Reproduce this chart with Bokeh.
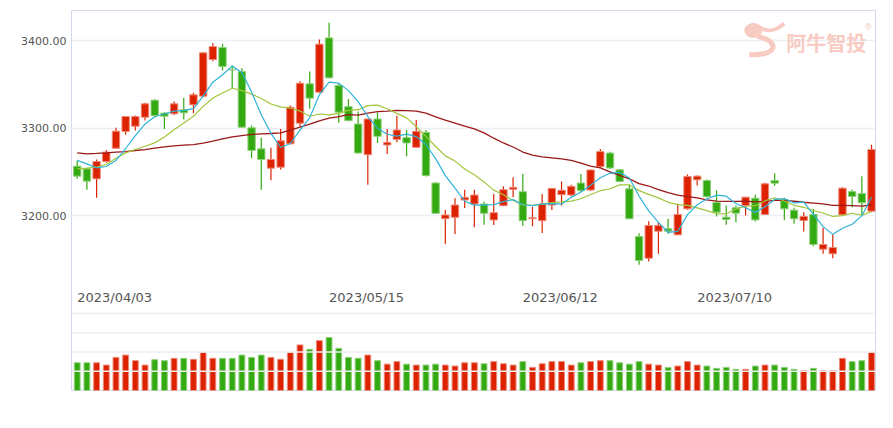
from bokeh.plotting import figure
from bokeh.models import (ColumnDataSource, Range1d, FixedTicker, NumeralTickFormatter,
                          Span, Label)
from bokeh.core.properties import value
from bokeh.embed import file_html
from bokeh.resources import INLINE

# ---------------- data ----------------
tick_idx = [0, 26, 46, 64]
tick_labels = ["2023/04/03", "2023/05/15", "2023/06/12", "2023/07/10"]

opens = [3256.4, 3253.3, 3241.9, 3261.7, 3276.9, 3296.0, 3302.1, 3312.4, 3331.8, 3317.0,
         3316.2, 3320.8, 3326.5, 3336.4, 3378.3, 3392.0, 3367.0, 3364.6, 3300.2, 3276.2,
         3254.1, 3255.2, 3281.9, 3305.5, 3350.5, 3341.0, 3403.0, 3348.6, 3324.4, 3304.6,
         3269.5, 3310.3, 3280.6, 3287.0, 3289.0, 3277.9, 3295.0, 3237.1, 3196.4, 3197.9,
         3217.7, 3213.1, 3213.1, 3194.9, 3211.2, 3229.9, 3227.2, 3196.4, 3194.1, 3212.0,
         3223.8, 3223.4, 3237.1, 3229.1, 3255.8, 3271.4, 3252.2, 3230.5, 3176.0, 3151.2,
         3182.1, 3184.8, 3177.9, 3207.6, 3240.8, 3240.0, 3214.9, 3198.1, 3208.8, 3211.4,
         3219.8, 3201.1, 3240.0, 3217.9, 3206.1, 3194.3, 3201.1, 3161.5, 3156.2, 3200.8,
         3227.4, 3225.1, 3205.0]
highs = [3262.9, 3254.0, 3264.0, 3275.0, 3300.2, 3313.5, 3314.3, 3328.8, 3333.0, 3318.1,
         3330.3, 3334.5, 3340.2, 3386.7, 3397.0, 3396.2, 3371.4, 3368.4, 3302.9, 3288.8,
         3277.3, 3299.0, 3325.7, 3353.5, 3364.6, 3401.1, 3420.2, 3350.5, 3333.1, 3319.0,
         3310.5, 3317.9, 3298.9, 3314.1, 3297.7, 3309.1, 3297.7, 3238.0, 3206.3, 3219.6,
         3229.5, 3229.5, 3215.8, 3224.6, 3233.3, 3243.6, 3247.4, 3210.1, 3224.6, 3231.5,
         3239.0, 3235.2, 3247.4, 3252.5, 3276.0, 3273.0, 3253.0, 3235.4, 3179.8, 3193.5,
         3192.4, 3196.2, 3213.3, 3246.9, 3245.7, 3241.1, 3228.6, 3211.4, 3211.4, 3221.0,
         3223.6, 3237.3, 3248.4, 3220.2, 3208.8, 3203.8, 3207.6, 3185.9, 3178.3, 3232.4,
         3229.7, 3245.0, 3280.8]
lows = [3241.9, 3229.3, 3220.2, 3260.2, 3276.0, 3292.2, 3297.1, 3308.6, 3312.4, 3299.0,
        3315.0, 3309.7, 3317.0, 3335.2, 3376.4, 3365.7, 3345.5, 3300.0, 3265.5, 3229.3,
        3240.4, 3252.6, 3281.5, 3301.7, 3321.9, 3340.5, 3357.0, 3305.9, 3307.6, 3271.0,
        3235.2, 3282.9, 3270.3, 3283.6, 3267.6, 3277.1, 3245.0, 3202.0, 3167.4, 3178.9,
        3208.6, 3186.5, 3189.5, 3189.1, 3211.0, 3220.8, 3188.4, 3187.6, 3180.0, 3206.3,
        3211.2, 3221.9, 3226.5, 3228.4, 3254.3, 3253.1, 3238.0, 3196.0, 3143.6, 3147.4,
        3156.2, 3179.0, 3177.5, 3206.5, 3234.3, 3220.2, 3198.9, 3189.3, 3192.4, 3200.0,
        3193.1, 3201.0, 3233.9, 3195.0, 3190.5, 3181.7, 3165.0, 3156.2, 3151.2, 3200.0,
        3209.5, 3200.0, 3204.0]
closes = [3245.0, 3239.2, 3261.7, 3272.4, 3296.4, 3313.1, 3313.1, 3327.6, 3314.3, 3313.5,
          3327.6, 3317.3, 3337.9, 3385.9, 3393.1, 3370.3, 3366.5, 3301.0, 3274.3, 3264.0,
          3264.0, 3285.3, 3323.8, 3351.2, 3334.1, 3395.8, 3357.3, 3318.1, 3308.4, 3271.4,
          3310.3, 3290.5, 3283.6, 3297.7, 3282.9, 3296.2, 3245.5, 3202.5, 3200.6, 3212.0,
          3220.8, 3223.4, 3202.5, 3203.2, 3229.5, 3232.2, 3194.1, 3197.5, 3213.1, 3231.0,
          3228.8, 3233.3, 3228.4, 3252.0, 3273.0, 3254.3, 3238.9, 3196.2, 3148.6, 3188.6,
          3188.6, 3182.1, 3201.1, 3244.6, 3245.0, 3221.7, 3203.8, 3195.4, 3202.7, 3221.0,
          3195.0, 3236.2, 3237.0, 3207.6, 3196.2, 3198.9, 3166.9, 3166.9, 3163.4, 3231.2,
          3221.7, 3214.5, 3275.4]
volumes = [144, 144, 144, 132, 172, 184, 155, 132, 160, 155,
           167, 167, 162, 197, 167, 167, 167, 184, 172, 184,
           172, 162, 197, 237, 214, 259, 275, 219, 172, 167,
           184, 155, 137, 150, 137, 132, 132, 137, 132, 127,
           144, 144, 139, 150, 139, 132, 150, 120, 139, 150,
           150, 132, 144, 150, 155, 155, 144, 137, 150, 137,
           132, 120, 127, 150, 132, 127, 115, 120, 110, 110,
           127, 132, 132, 120, 110, 104, 115, 104, 104, 167,
           150, 155, 197]

# moving-average values at the start of the window (they depend on earlier days)
ma5_head = [3263.0, 3259.0, 3254.5, 3256.0]
ma10_head = [3253.3, 3254.1, 3255.2, 3258.3, 3265.5, 3271.6, 3275.4, 3279.2, 3283.0]
ma30_head = [3271.6, 3270.5, 3270.9, 3271.6, 3272.4, 3273.1, 3274.3, 3275.4, 3277.0, 3278.5,
             3279.6, 3280.4, 3281.1, 3282.7, 3285.0, 3287.6, 3289.9, 3291.4, 3292.6, 3293.3,
             3293.7, 3294.5, 3297.5, 3301.0, 3304.4, 3308.2, 3311.2, 3313.1, 3315.2]

# ---------------- styling ----------------
RED = "#dd2200"
GREEN = "#33aa11"
RED_EDGE = "#ee8877"
GREEN_EDGE = "#8fd07a"
MA5_C = "#2fb3d9"
MA10_C = "#a2c63c"
MA30_C = "#9a1818"


def rolling(vals, n, head):
    out = list(head)
    for i in range(len(head), len(vals)):
        w = vals[i - n + 1:i + 1]
        out.append(sum(w) / len(w))
    return out


n = len(closes)
idx = list(range(n))
up = [c >= o for o, c in zip(opens, closes)]
colors = [RED if u else GREEN for u in up]
edges = [RED_EDGE if u else GREEN_EDGE for u in up]
tops = [max(o, c) for o, c in zip(opens, closes)]
bots = [min(o, c) for o, c in zip(opens, closes)]

src = ColumnDataSource(dict(x=idx, open=opens, high=highs, low=lows, close=closes,
                            top=tops, bottom=bots, color=colors, edge=edges, vol=volumes))

p = figure(width=893, height=428, output_backend="svg", toolbar_location=None,
           x_range=Range1d(-0.59, n - 0.59), y_range=Range1d(3000, 3434.29),
           min_border_left=71, min_border_right=18, min_border_top=10, min_border_bottom=38)
p.extra_y_ranges = {"vol": Range1d(0, 1974)}

p.background_fill_color = "white"
p.border_fill_color = "white"
p.outline_line_color = "#d0d8ea"
p.outline_line_width = 1

p.xaxis.visible = False
p.xgrid.visible = False
p.ygrid.ticker = FixedTicker(ticks=[3200, 3300, 3400])
p.ygrid.grid_line_color = "#eceef2"
p.ygrid.grid_line_width = 1.5

ya = p.yaxis[0]
ya.ticker = FixedTicker(ticks=[3200, 3300, 3400])
ya.formatter = NumeralTickFormatter(format="0.00")
ya.axis_line_color = None
ya.major_tick_line_color = None
ya.minor_tick_line_color = None
ya.major_tick_out = 0
ya.major_label_standoff = 5
ya.major_label_text_font = "DejaVu Sans"
ya.major_label_text_font_size = "11px"
ya.major_label_text_color = "#555555"

# volume grid lines
for gv in [100, 200, 300, 400]:
    p.add_layout(Span(location=gv, dimension="width", y_range_name="vol",
                      line_color="#eceef2", line_width=1.5))

# volume bars
p.vbar(x="x", top="vol", bottom=0, width=0.6, source=src, y_range_name="vol",
       fill_color="color", line_color="edge", line_width=1)

# candles
p.segment(x0="x", y0="low", x1="x", y1="high", source=src, line_color="color", line_width=1.2)
p.vbar(x="x", top="top", bottom="bottom", width=0.76, source=src,
       fill_color="color", line_color="edge", line_width=1)

# moving averages
ma5 = rolling(closes, 5, ma5_head)
ma10 = rolling(closes, 10, ma10_head)
ma30 = rolling(closes, 30, ma30_head)
p.line(idx, ma30, line_color=MA30_C, line_width=1.3)
p.line(idx, ma10, line_color=MA10_C, line_width=1.2)
p.line(idx, ma5, line_color=MA5_C, line_width=1.2)

# date labels inside the chart, between the price and volume panels
p.text(x=tick_idx, y=[3106.3] * len(tick_idx), text=tick_labels,
       text_font=value("DejaVu Sans"), text_font_size="13px", text_color="#555555",
       text_align="left", text_baseline="middle")

# watermark (logo + brand name)
def px2x(px):
    return (px - 76.7) / 9.69


def py2y(py):
    return 3200 + (215 - py) / 0.875


WM = "#f7cbc2"
p.ellipse(x=[px2x(753)], y=[py2y(30)], width=18 / 9.69, height=15 / 0.875,
          fill_color=WM, line_color=None)
p.bezier(x0=[px2x(758)], y0=[py2y(26)], x1=[px2x(784)], y1=[py2y(23)],
         cx0=[px2x(768)], cy0=[py2y(33)], cx1=[px2x(776)], cy1=[py2y(30)],
         line_color=WM, line_width=4)
p.bezier(x0=[px2x(757)], y0=[py2y(36)], x1=[px2x(749)], y1=[py2y(54)],
         cx0=[px2x(780)], cy0=[py2y(40)], cx1=[px2x(778)], cy1=[py2y(56)],
         line_color=WM, line_width=5)
p.add_layout(Label(x=px2x(826), y=py2y(42), text="阿牛智投", text_align="center",
                   text_baseline="middle", text_font="Noto Sans CJK SC",
                   text_font_style="bold", text_font_size="20px", text_color=WM))
p.add_layout(Label(x=px2x(868), y=py2y(27), text="®", text_align="center",
                   text_baseline="middle", text_font="DejaVu Sans",
                   text_font_size="8px", text_color=WM))

open("out.html", "w").write(file_html(p, INLINE))
